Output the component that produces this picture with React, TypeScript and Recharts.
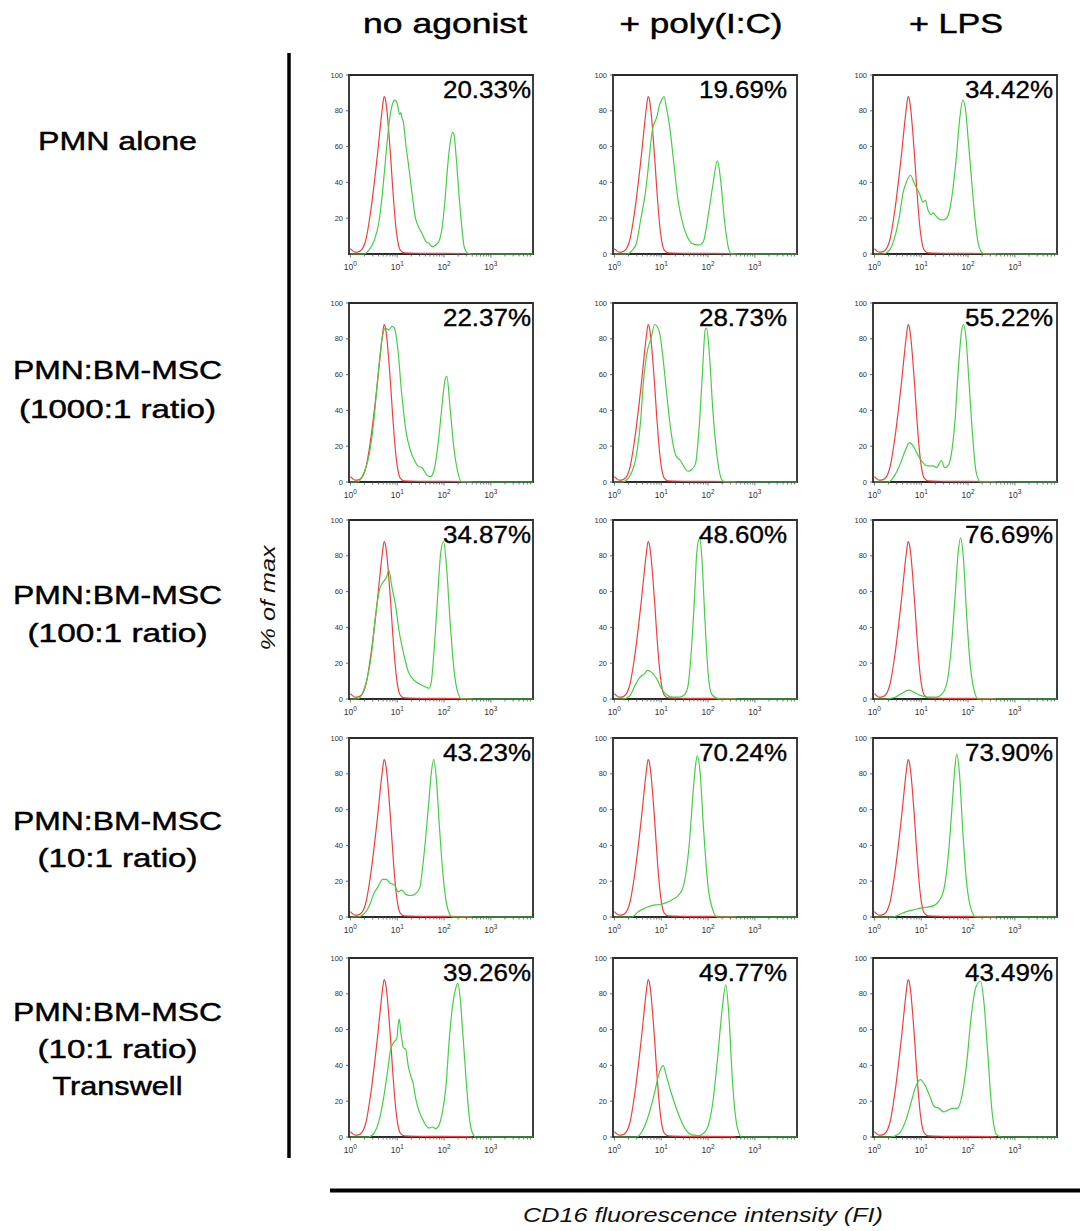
import { LineChart, Line, XAxis, YAxis, ReferenceArea } from 'recharts';

// x values are decades (log10 of CD16 FI), y values are % of max
type Pt = [number, number];

const colLabels = ['no agonist', '+ poly(I:C)', '+ LPS'];
const rowLabels = [
  ['PMN alone'],
  ['PMN:BM-MSC', '(1000:1 ratio)'],
  ['PMN:BM-MSC', '(100:1 ratio)'],
  ['PMN:BM-MSC', '(10:1 ratio)'],
  ['PMN:BM-MSC', '(10:1 ratio)', 'Transwell'],
];
const percentLabels = [
  ['20.33%', '19.69%', '34.42%'],
  ['22.37%', '28.73%', '55.22%'],
  ['34.87%', '48.60%', '76.69%'],
  ['43.23%', '70.24%', '73.90%'],
  ['39.26%', '49.77%', '43.49%'],
];
const yTicks = [0, 20, 40, 60, 80, 100];
const decades = [0, 1, 2, 3];

// isotype control (red)
const control: Pt[] = [[0, 3], [0.04, 2], [0.1, 1], [0.2, 1.5], [0.28, 4], [0.34, 9], [0.4, 18], [0.46, 29], [0.52, 42], [0.58, 56], [0.63, 69], [0.68, 81], [0.72, 88], [0.75, 86], [0.78, 80], [0.82, 68], [0.86, 54], [0.9, 38], [0.94, 24], [0.98, 13], [1.02, 6], [1.07, 2], [1.15, 0.6], [1.5, 0.4], [2.0, 0.3], [2.5, 0.2], [2.6, 0]];

// CD16 stain (green), one per panel
const alonePlain: Pt[] = [[0, 0], [0.29, 0], [0.39, 2], [0.5, 7], [0.61, 18], [0.68, 33], [0.73, 47], [0.79, 64], [0.84, 76], [0.89, 83], [0.95, 86], [1.0, 84], [1.05, 78], [1.08, 79], [1.1, 76], [1.13, 74], [1.18, 62], [1.25, 48], [1.32, 33], [1.39, 20], [1.46, 15], [1.54, 11], [1.61, 7], [1.68, 6], [1.75, 4], [1.82, 5], [1.89, 7], [1.96, 15], [2.02, 30], [2.07, 47], [2.13, 62], [2.18, 68], [2.21, 67], [2.26, 54], [2.32, 33], [2.38, 15], [2.43, 4], [2.5, 0.5], [2.55, 0], [3.9, 0]];
const alonePolyIC: Pt[] = [[0, 0], [0.27, 0], [0.38, 2], [0.47, 6], [0.56, 19], [0.66, 34], [0.71, 45], [0.81, 69], [0.91, 77], [0.96, 83], [1.03, 87], [1.06, 88], [1.11, 82], [1.18, 71], [1.26, 53], [1.36, 30], [1.46, 17], [1.55, 10], [1.65, 6], [1.8, 5], [1.9, 7], [2.0, 21], [2.1, 38], [2.2, 52], [2.27, 41], [2.35, 19], [2.43, 4], [2.5, 0], [3.9, 0]];
const aloneLps: Pt[] = [[0, 0], [0.18, 0], [0.32, 2], [0.43, 9], [0.54, 22], [0.61, 34], [0.68, 40], [0.77, 44], [0.86, 39], [0.96, 34], [1.04, 29], [1.09, 30], [1.14, 25], [1.21, 22], [1.26, 23], [1.29, 22], [1.36, 20], [1.46, 19], [1.54, 20], [1.61, 25], [1.68, 37], [1.75, 54], [1.82, 75], [1.89, 86], [1.95, 80], [2.0, 65], [2.07, 43], [2.14, 22], [2.21, 7], [2.29, 1], [2.36, 0], [3.9, 0]];

const r1000Plain: Pt[] = [[0, 0], [0.15, 0], [0.3, 6], [0.4, 15], [0.5, 34], [0.59, 60], [0.69, 82], [0.74, 86], [0.82, 85], [0.89, 87], [0.94, 86], [1.01, 75], [1.09, 51], [1.19, 28], [1.29, 17], [1.37, 12], [1.44, 9], [1.53, 8], [1.63, 4], [1.71, 3], [1.78, 6], [1.88, 23], [1.95, 41], [2.03, 58], [2.06, 59], [2.13, 41], [2.21, 19], [2.29, 6], [2.38, 0], [3.9, 0]];
const r1000PolyIC: Pt[] = [[0, 0], [0.17, 0], [0.32, 3], [0.47, 15], [0.56, 34], [0.62, 56], [0.71, 74], [0.78, 80], [0.86, 88], [0.96, 84], [1.03, 71], [1.11, 51], [1.21, 28], [1.31, 15], [1.41, 12], [1.5, 8], [1.57, 6], [1.65, 7], [1.73, 10], [1.8, 27], [1.87, 56], [1.94, 85], [1.97, 86], [2.03, 71], [2.1, 41], [2.2, 13], [2.3, 1], [2.37, 0], [3.9, 0]];
const r1000Lps: Pt[] = [[0, 0], [0.29, 0], [0.44, 4], [0.55, 10], [0.65, 17], [0.75, 22], [0.83, 20], [0.93, 15], [1.03, 11], [1.13, 9], [1.25, 9], [1.33, 8], [1.43, 12], [1.5, 8], [1.57, 9], [1.64, 15], [1.72, 34], [1.79, 62], [1.86, 84], [1.9, 88], [1.95, 82], [2.02, 56], [2.1, 25], [2.17, 6], [2.27, 0], [3.9, 0]];

const r100Plain: Pt[] = [[0, 0], [0.15, 0], [0.3, 6], [0.45, 25], [0.54, 47], [0.62, 61], [0.69, 65], [0.77, 68], [0.82, 72], [0.89, 62], [0.96, 53], [1.04, 38], [1.14, 25], [1.24, 15], [1.34, 11], [1.44, 9], [1.58, 7], [1.68, 6], [1.73, 10], [1.8, 32], [1.86, 56], [1.93, 82], [1.99, 88], [2.05, 75], [2.13, 43], [2.21, 17], [2.29, 4], [2.38, 0], [3.9, 0]];
const r100PolyIC: Pt[] = [[0, 0], [0.18, 0], [0.32, 1.5], [0.43, 7], [0.54, 12], [0.64, 14], [0.71, 16], [0.79, 15], [0.86, 13], [0.93, 10], [1.0, 6], [1.11, 2.5], [1.25, 1], [1.39, 1], [1.5, 2.5], [1.57, 7], [1.64, 26], [1.71, 56], [1.76, 82], [1.82, 90], [1.87, 78], [1.93, 46], [2.0, 15], [2.07, 3], [2.18, 0.5], [2.25, 0], [3.9, 0]];
const r100Lps: Pt[] = [[0, 0], [0.24, 0], [0.44, 1], [0.58, 3], [0.73, 5], [0.83, 4], [0.98, 2], [1.13, 1], [1.28, 1], [1.38, 1.5], [1.48, 4], [1.57, 12], [1.64, 28], [1.72, 56], [1.79, 82], [1.84, 90], [1.9, 79], [1.97, 47], [2.04, 21], [2.12, 6], [2.22, 0], [3.9, 0]];

const r10Plain: Pt[] = [[0, 0], [0.15, 0], [0.3, 2], [0.4, 6], [0.5, 13], [0.59, 17], [0.69, 21], [0.77, 21], [0.84, 19], [0.94, 18], [1.02, 14], [1.09, 15], [1.19, 12.5], [1.29, 12], [1.39, 13], [1.49, 17], [1.53, 25], [1.61, 45], [1.68, 66], [1.73, 81], [1.78, 88], [1.83, 79], [1.9, 51], [1.98, 23], [2.05, 8], [2.15, 0.5], [2.2, 0], [3.9, 0]];
const r10PolyIC: Pt[] = [[0, 0], [0.37, 0], [0.51, 3], [0.66, 5], [0.81, 6.5], [0.96, 7], [1.11, 8], [1.26, 10], [1.36, 12], [1.46, 16], [1.53, 25], [1.6, 41], [1.67, 66], [1.73, 84], [1.77, 90], [1.83, 81], [1.9, 51], [2.0, 17], [2.1, 4], [2.2, 0], [3.9, 0]];
const r10Lps: Pt[] = [[0, 0], [0.39, 0], [0.53, 1.3], [0.68, 3], [0.83, 4], [0.98, 5], [1.13, 5.5], [1.28, 6.5], [1.38, 9], [1.48, 15], [1.54, 25], [1.6, 41], [1.67, 66], [1.72, 84], [1.76, 91], [1.82, 79], [1.89, 47], [1.97, 19], [2.07, 4], [2.17, 0], [3.9, 0]];

const transPlain: Pt[] = [[0, 0], [0.39, 0], [0.5, 2], [0.61, 9], [0.71, 22], [0.79, 36], [0.86, 49], [0.93, 53], [0.99, 55], [1.04, 66], [1.09, 56], [1.13, 50], [1.18, 49], [1.24, 39], [1.29, 34], [1.34, 30], [1.39, 22], [1.46, 15], [1.54, 10], [1.61, 6.6], [1.68, 5], [1.75, 5.6], [1.82, 4.7], [1.89, 6.6], [1.96, 13], [2.04, 28], [2.11, 54], [2.18, 73], [2.24, 82], [2.29, 86], [2.34, 79], [2.39, 62], [2.46, 36], [2.54, 11], [2.61, 2], [2.68, 0], [3.9, 0]];
const transPolyIC: Pt[] = [[0, 0], [0.47, 0], [0.61, 4], [0.74, 13], [0.86, 25], [0.96, 36], [1.04, 40], [1.11, 34], [1.21, 25], [1.31, 17], [1.41, 10], [1.5, 5], [1.65, 1.3], [1.8, 0.7], [1.9, 2], [2.0, 6], [2.1, 19], [2.2, 43], [2.3, 71], [2.38, 85], [2.45, 66], [2.52, 32], [2.62, 6], [2.72, 0], [3.9, 0]];
const transLps: Pt[] = [[0, 0], [0.34, 0], [0.53, 2], [0.68, 10], [0.78, 19], [0.88, 28], [0.98, 32], [1.08, 29], [1.18, 23], [1.28, 17], [1.38, 16], [1.48, 14], [1.57, 15], [1.67, 16], [1.77, 16], [1.87, 23], [1.97, 41], [2.07, 68], [2.17, 84], [2.27, 87], [2.34, 75], [2.42, 47], [2.51, 15], [2.61, 1.3], [2.71, 0], [3.9, 0]];

const stained: Pt[][][] = [
  [alonePlain, alonePolyIC, aloneLps],
  [r1000Plain, r1000PolyIC, r1000Lps],
  [r100Plain, r100PolyIC, r100Lps],
  [r10Plain, r10PolyIC, r10Lps],
  [transPlain, transPolyIC, transLps],
];

// layout
const BOX_W = 184;
const BOX_H = 179;
const Y_AXIS_W = 30;
const X_AXIS_H = 22;
const M_TOP = 5;
const M_RIGHT = 4;
const boxLeft = [349, 613, 873];
const boxTop = [75, 303, 520, 738, 958];
const pctRight = [531, 787, 1053];
const X_DOMAIN: [number, number] = [-0.03, 3.9];

const RED = '#ef3e3e';
const GREEN = '#45cf45';
const FONT = '"Liberation Sans", Arial, Helvetica, sans-serif';

const xTicks: number[] = [];
decades.forEach((n) => {
  for (let k = 1; k <= 9; k++) {
    const v = n + Math.log10(k);
    if (v <= X_DOMAIN[1]) xTicks.push(v);
  }
});

const toRows = (pts: Pt[]) => pts.map(([d, v]) => ({ d, v }));

const XTick = (props: any) => {
  const { x, y, payload } = props;
  const v = payload.value as number;
  const major = Math.abs(v - Math.round(v)) < 1e-6;
  return (
    <g>
      <line x1={x} x2={x} y1={y} y2={y + (major ? 3.5 : 2.5)} stroke="#555" strokeWidth={0.8} />
      {major && (
        <text x={x} y={y + 16} textAnchor="middle" fontSize={8.5} fill="#333" fontFamily={FONT}>
          10
          <tspan dy={-4} fontSize={6.5}>
            {Math.round(v)}
          </tspan>
        </text>
      )}
    </g>
  );
};

function Panel({ row, col }: { row: number; col: number }) {
  const ticks = row === 0 && col === 0 ? yTicks.slice(1) : yTicks;
  return (
    <div
      style={{
        position: 'absolute',
        left: boxLeft[col] - Y_AXIS_W,
        top: boxTop[row] - M_TOP,
      }}
    >
      <LineChart
        width={Y_AXIS_W + BOX_W + M_RIGHT}
        height={M_TOP + BOX_H + X_AXIS_H}
        margin={{ top: M_TOP, right: M_RIGHT, left: 0, bottom: 0 }}
      >
        <XAxis
          dataKey="d"
          type="number"
          domain={X_DOMAIN}
          allowDataOverflow
          ticks={xTicks}
          interval={0}
          tick={<XTick />}
          tickLine={false}
          axisLine={false}
          tickSize={0}
          tickMargin={0}
          height={X_AXIS_H}
        />
        <YAxis
          type="number"
          domain={[0, 100]}
          ticks={ticks}
          interval={0}
          width={Y_AXIS_W}
          axisLine={false}
          tickLine={{ stroke: '#444', strokeWidth: 0.8 }}
          tickSize={3}
          tickMargin={3}
          tick={{ fontSize: 7.5, fill: '#333', fontFamily: FONT }}
        />
        <ReferenceArea
          x1={X_DOMAIN[0]}
          x2={X_DOMAIN[1]}
          y1={0}
          y2={100}
          ifOverflow="visible"
          fill="none"
          stroke="#2b2b2b"
          strokeWidth={1.8}
        />
        <Line
          data={toRows(control)}
          dataKey="v"
          type="monotone"
          stroke={RED}
          strokeWidth={1.2}
          dot={false}
          isAnimationActive={false}
        />
        <Line
          data={toRows(stained[row][col])}
          dataKey="v"
          type="monotone"
          stroke={GREEN}
          strokeWidth={1.2}
          dot={false}
          isAnimationActive={false}
        />
      </LineChart>
    </div>
  );
}

// row label baselines, one per line
const rowLabelBaselines = [[150], [379, 418], [604, 642], [830, 867], [1021, 1058, 1095]];
const rowLabelWidths: Record<string, number> = {
  'PMN alone': 159,
  'PMN:BM-MSC': 209,
  '(1000:1 ratio)': 197,
  '(100:1 ratio)': 180,
  '(10:1 ratio)': 160,
  Transwell: 130,
};
const colLabelCenters = [445, 701, 956];
const colLabelWidths = [164, 163, 94];

export default function App() {
  return (
    <div
      style={{
        position: 'absolute',
        left: 0,
        top: 0,
        width: 1080,
        height: 1231,
        background: '#fff',
        fontFamily: FONT,
      }}
    >
      {rowLabels.map((_, r) => colLabels.map((__, c) => <Panel key={`${r}-${c}`} row={r} col={c} />))}

      <svg width={1080} height={1231} style={{ position: 'absolute', left: 0, top: 0, pointerEvents: 'none' }}>
        {colLabels.map((t, i) => (
          <text
            key={t}
            x={colLabelCenters[i] - colLabelWidths[i] / 2}
            y={33}
            fontSize={27.5}
            fontFamily={FONT}
            fill="#000"
            stroke="#000"
            strokeWidth={0.45}
            textLength={colLabelWidths[i]}
            lengthAdjust="spacingAndGlyphs"
          >
            {t}
          </text>
        ))}

        {rowLabels.map((lines, r) =>
          lines.map((t, j) => (
            <text
              key={`${r}-${j}`}
              x={117.5 - rowLabelWidths[t] / 2}
              y={rowLabelBaselines[r][j]}
              fontSize={26}
              fontFamily={FONT}
              fill="#000"
              stroke="#000"
              strokeWidth={0.45}
              textLength={rowLabelWidths[t]}
              lengthAdjust="spacingAndGlyphs"
            >
              {t}
            </text>
          ))
        )}

        {percentLabels.map((cols, r) =>
          cols.map((t, c) => (
            <text
              key={`p-${r}-${c}`}
              x={pctRight[c] - 88}
              y={boxTop[r] + 23}
              fontSize={24}
              fontFamily={FONT}
              fill="#000"
              stroke="#000"
              strokeWidth={0.35}
              textLength={88}
              lengthAdjust="spacingAndGlyphs"
            >
              {t}
            </text>
          ))
        )}

        <line x1={289} x2={289} y1={53} y2={1158} stroke="#000" strokeWidth={3.5} />
        <line x1={330} x2={1080} y1={1190.5} y2={1190.5} stroke="#000" strokeWidth={4} />

        <text
          transform="translate(275 598) rotate(-90)"
          x={-52.5}
          y={0}
          fontSize={20}
          fontStyle="italic"
          fontFamily={FONT}
          fill="#111"
          textLength={105}
          lengthAdjust="spacingAndGlyphs"
        >
          % of max
        </text>
        <text
          x={703 - 180}
          y={1222}
          fontSize={21}
          fontStyle="italic"
          fontFamily={FONT}
          fill="#111"
          textLength={360}
          lengthAdjust="spacingAndGlyphs"
        >
          CD16 fluorescence intensity (FI)
        </text>
      </svg>
    </div>
  );
}
